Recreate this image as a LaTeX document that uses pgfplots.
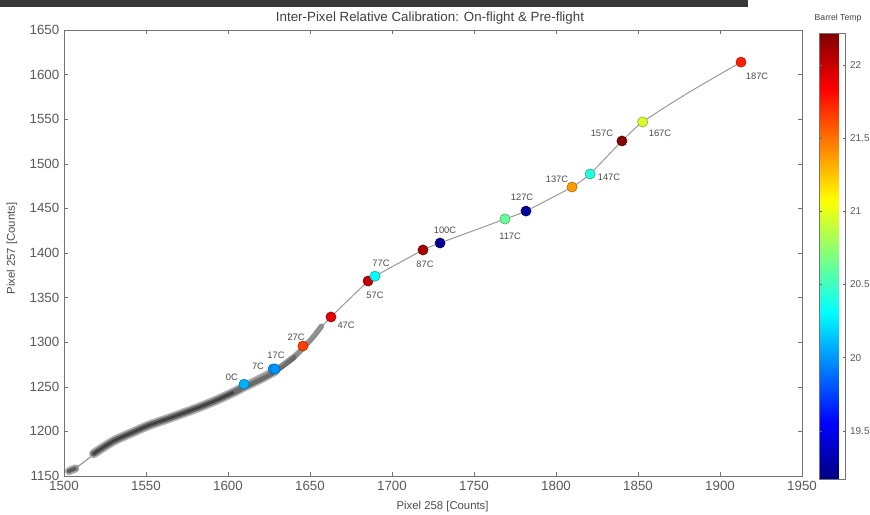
\documentclass[border=0pt]{standalone}
\usepackage{fontspec}
\setmainfont{Liberation Sans}
\usepackage{pgfplots}
\pgfplotsset{compat=1.18}
\begin{document}
\begin{tikzpicture}
\useasboundingbox (-48pt,-28.5pt) rectangle (604.5pt,357pt);
\fill[black!78] (-48pt,352pt) rectangle (513pt,357pt);
\begin{axis}[
    width=553.5pt, height=334.5pt, scale only axis,
    xmin=1500, xmax=1950, ymin=1150, ymax=1650,
    xtick={1500,1550,...,1950}, ytick={1150,1200,...,1650},
    scaled ticks=false,
    tick align=inside, major tick length=3pt,
    axis line style={black!55}, tick style={black!55},
    /pgf/number format/1000 sep={},
    /pgf/number format/assume math mode=true,
    tick label style={font=\fontsize{10}{11}\selectfont, text=black!65},
    xlabel={Pixel 258 [Counts]}, ylabel={Pixel 257 [Counts]},
    label style={font=\fontsize{8.5}{10}\selectfont, text=black!70},
    xlabel style={at={(axis description cs:0.513,0)}, anchor=center, yshift=-23pt},
    ylabel style={at={(axis description cs:0,0.51)}, anchor=center, yshift=39pt},
    colormap/jet,
    point meta min=19.17, point meta max=22.22,
    colorbar,
    colorbar style={
        width=19.5pt,
        at={(parent axis.north east)}, anchor=north west,
        xshift=4.5pt, yshift=-2.25pt,
        ytick={19.5,20,20.5,21,21.5,22},
        major tick length=2pt,
        tick style={black!60},
        axis line style={black!55},
        /pgf/number format/assume math mode=true,
        yticklabel style={font=\fontsize{7.5}{8}\selectfont, text=black!65},
    },
]
% dense gray band of readings
\addplot[black!35, line width=6pt, line cap=round] coordinates {
    (1503,1155.5) (1507,1158.5)};
\addplot[black!65, line width=3pt, line cap=round] coordinates {
    (1503,1155.5) (1507,1158.5)};
\addplot[black!45, line width=0.8pt] coordinates {
    (1507,1158.5) (1518,1174)};
\addplot[black!30, line width=7pt, line cap=round, line join=round, smooth] coordinates {
    (1518,1175) (1530,1189) (1542,1199) (1552,1207) (1563,1214)
    (1575,1222) (1583,1227.5) (1593,1235) (1603,1243.5) (1610,1250)
    (1620,1259) (1629,1268)};
\addplot[black!45, line width=4pt, line cap=round, line join=round, smooth] coordinates {
    (1629,1268) (1640,1283) (1646,1294) (1652,1306) (1657,1318)};
\addplot[black!58, line width=4.5pt, line cap=round, line join=round, smooth] coordinates {
    (1518,1175) (1530,1189) (1542,1199) (1552,1207) (1563,1214)
    (1575,1222) (1583,1227.5) (1593,1235) (1603,1243.5) (1610,1250)
    (1620,1259) (1629,1268) (1640,1283)};
\addplot[black!75, line width=2pt, line cap=round, line join=round, smooth] coordinates {
    (1518,1175) (1530,1189) (1542,1199) (1552,1207) (1563,1214)
    (1575,1222) (1583,1227.5) (1593,1235) (1603,1243.5)};
% connecting line
\addplot[black!40, line width=0.75pt, smooth, tension=0.3] coordinates {
    (1609.8,1253) (1628.7,1270) (1645.7,1295.7) (1662.8,1328.3)
    (1685.4,1368.6) (1689.6,1374) (1718.9,1403.4) (1729.3,1411.2)
    (1768.9,1438.1) (1781.7,1447) (1809.8,1474) (1820.8,1488.6)
    (1840.2,1525.6) (1852.8,1546.9) (1880,1579) (1912.8,1614)};
% calibration points coloured by barrel temperature
\addplot[scatter, only marks, mark=*, mark size=3.8pt,
    scatter/use mapped color={draw=mapped color!65!black, fill=mapped color},
    point meta=explicit] table[meta=t] {
x      y      t
1609.8 1253   20.08
1627.5 1270   20.02
1628.7 1270   20.00
1645.7 1295.7 21.65
1662.8 1328.3 21.92
1685.4 1368.6 22.02
1689.6 1374   20.32
1718.9 1403.4 22.10
1729.3 1411.2 19.23
1768.9 1438.1 20.62
1781.7 1447   19.25
1809.8 1474   21.37
1820.8 1488.6 20.42
1840.2 1525.6 22.20
1852.8 1546.9 20.95
1912.8 1614   21.75
};
\tikzset{lbl/.style={font=\fontsize{7}{8}\selectfont, text=black!70, inner sep=0pt}}
\node[lbl] at (axis cs:1602.4,1261) {0C};
\node[lbl] at (axis cs:1618.3,1273.3) {7C};
\node[lbl] at (axis cs:1629.3,1285.6) {17C};
\node[lbl] at (axis cs:1641.5,1305.8) {27C};
\node[lbl] at (axis cs:1672,1319.3) {47C};
\node[lbl] at (axis cs:1689.6,1352.9) {57C};
\node[lbl] at (axis cs:1693.3,1388.8) {77C};
\node[lbl] at (axis cs:1720.1,1387.7) {87C};
\node[lbl] at (axis cs:1732.3,1425.8) {100C};
\node[lbl] at (axis cs:1772,1419) {117C};
\node[lbl] at (axis cs:1779.3,1462.8) {127C};
\node[lbl] at (axis cs:1800.6,1483) {137C};
\node[lbl] at (axis cs:1832.3,1485.2) {147C};
\node[lbl] at (axis cs:1828,1534.5) {157C};
\node[lbl] at (axis cs:1863.4,1534.5) {167C};
\node[lbl] at (axis cs:1922.6,1598.4) {187C};
\end{axis}
\node[font=\fontsize{10}{12}\selectfont, text=black!75] at (274.5pt,343.5pt)
    {Inter-Pixel Relative Calibration: On-flight \& Pre-flight};
\node[font=\fontsize{6.5}{8}\selectfont, text=black!75] at (580.5pt,343.5pt) {Barrel Temp};
\end{tikzpicture}
\end{document}
